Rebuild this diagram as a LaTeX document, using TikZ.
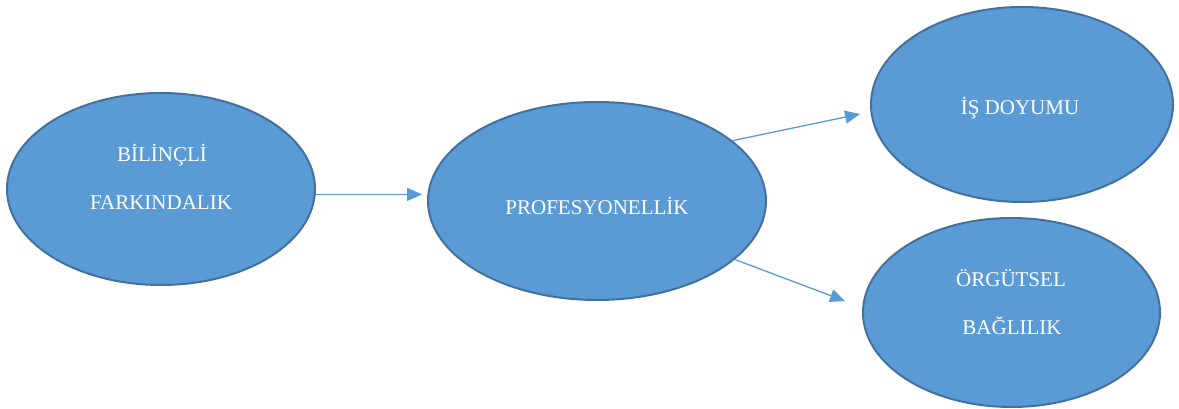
\documentclass[tikz,border=0pt]{standalone}
\usepackage{fontspec}
\setmainfont{Liberation Serif}
\usetikzlibrary{arrows.meta,shapes.geometric}
\definecolor{bubblefill}{HTML}{5B9BD5}
\definecolor{bubbleedge}{HTML}{41719C}
\begin{document}
\begin{tikzpicture}[x=1pt,y=1pt,
  bubble/.style={ellipse, draw=bubbleedge, fill=bubblefill, line width=2pt, inner sep=0pt},
  caption/.style={anchor=base, text=white, font=\fontsize{21}{24}\selectfont, inner sep=0pt},
  link/.style={draw=bubblefill, line width=1.3pt, -{Triangle[length=15pt,width=13pt]}}]
\useasboundingbox (0,0) rectangle (1179,409);

% ellipses
\node[bubble, minimum width=308pt, minimum height=192pt] (aware) at (161,220) {};
\node[bubble, minimum width=338pt, minimum height=198pt] (prof) at (597,208) {};
\node[bubble, minimum width=302pt, minimum height=195pt] (job) at (1022,304.5) {};
\node[bubble, minimum width=297pt, minimum height=189pt] (org) at (1011.5,96.5) {};

% captions
\node[caption] (aware1) at (162,247) {BİLİNÇLİ};
\node[caption] (aware2) at (161,199) {FARKINDALIK};
\node[caption] (prof1) at (597,194) {PROFESYONELLİK};
\node[caption] (job1) at (1020,294) {İŞ DOYUMU};
\node[caption] (org1) at (1011,122) {ÖRGÜTSEL};
\node[caption] (org2) at (1012,74) {BAĞLILIK};

% arrow tips stop short of the target ellipses
\coordinate (tipA) at (422,215);
\coordinate (tipB) at (860,295);
\coordinate (tipC) at (845,108);

\draw[link] (aware.-2) -- (aware.-2 -| tipA);
\draw[link] (prof.24) -- (tipB);
\draw[link] (prof.-23) -- (tipC);
\end{tikzpicture}
\end{document}
